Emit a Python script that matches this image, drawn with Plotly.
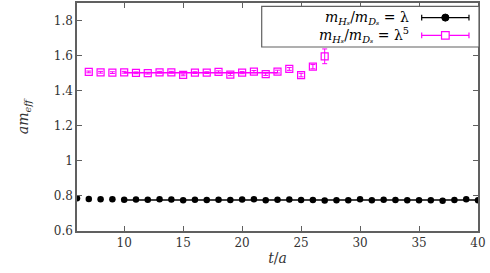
import plotly.graph_objects as go

# ---- data ----
t_black = list(range(6, 41))
y_black = [0.787, 0.783, 0.781, 0.781, 0.778, 0.779, 0.778, 0.781, 0.780, 0.776,
           0.778, 0.777, 0.778, 0.777, 0.779, 0.781, 0.775, 0.778, 0.779, 0.777,
           0.777, 0.774, 0.775, 0.776, 0.781, 0.776, 0.778, 0.777, 0.776, 0.776,
           0.776, 0.773, 0.777, 0.781, 0.776]
e_black = [0.002] * len(t_black)

t_mag = list(range(7, 28))
y_mag = [1.507, 1.505, 1.503, 1.505, 1.502, 1.500, 1.505, 1.505, 1.490, 1.503,
         1.503, 1.507, 1.492, 1.503, 1.509, 1.494, 1.509, 1.524, 1.489, 1.537,
         1.596]
e_mag = [0.005, 0.005, 0.005, 0.005, 0.005, 0.005, 0.005, 0.005, 0.005, 0.005,
         0.005, 0.006, 0.006, 0.006, 0.006, 0.007, 0.008, 0.008, 0.010, 0.012,
         0.042]

fit_black_t = [10, 40]
fit_black_y = [0.777, 0.777]
fit_mag_t = [10, 23]
fit_mag_y = [1.502, 1.502]

x_ticks = [10, 15, 20, 25, 30, 35, 40]
y_ticks = [0.6, 0.8, 1.0, 1.2, 1.4, 1.6, 1.8]
y_ticklabels = ["0.6", "0.8", "1", "1.2", "1.4", "1.6", "1.8"]

legend_labels = ["<i>m</i><sub><i>Hₛ</i></sub>/<i>m</i><sub><i>Dₛ</i></sub> = λ",
                 "<i>m</i><sub><i>Hₛ</i></sub>/<i>m</i><sub><i>Dₛ</i></sub> = λ<sup>5</sup>"]

BLACK = "#000000"
MAG = "#ff00ff"
AXC = "#606060"
TXT = "#333333"
FONT = "DejaVu Serif"

fig = go.Figure()

fig.add_trace(go.Scatter(x=fit_black_t, y=fit_black_y, mode="lines",
                         line=dict(color=BLACK, width=1.5), showlegend=False, hoverinfo="skip"))
fig.add_trace(go.Scatter(x=fit_mag_t, y=fit_mag_y, mode="lines",
                         line=dict(color=MAG, width=1.5), showlegend=False, hoverinfo="skip"))

fig.add_trace(go.Scatter(x=t_black, y=y_black, mode="markers",
                         marker=dict(symbol="circle", size=6.5, color=BLACK),
                         error_y=dict(type="data", array=e_black, color=BLACK, width=2, thickness=1),
                         showlegend=False))
fig.add_trace(go.Scatter(x=t_mag, y=y_mag, mode="markers",
                         marker=dict(symbol="square-open", size=7, color=MAG, line=dict(width=1.2)),
                         error_y=dict(type="data", array=e_mag, color=MAG, width=2.5, thickness=1),
                         showlegend=False))

# ---- custom legend (text left, sample right, boxed) ----
shapes = []
annotations = []
shapes.append(dict(type="rect", xref="paper", yref="paper", x0=0.4606, x1=1.0025,
                   y0=0.807, y1=0.985, line=dict(color=AXC, width=1.2), fillcolor="white"))
rows = [(0.936, BLACK, "circle"), (0.858, MAG, "square")]
for (yy, col, sym), lab in zip(rows, legend_labels):
    annotations.append(dict(xref="paper", yref="paper", x=0.834, y=yy, text=lab,
                            showarrow=False, xanchor="right", yanchor="middle",
                            font=dict(family=FONT, size=14, color="black")))
    x0, x1, xm = 0.8596, 0.9775, 0.9186
    shapes.append(dict(type="line", xref="paper", yref="paper", x0=x0, x1=x1, y0=yy, y1=yy,
                       line=dict(color=col, width=1.2)))
    for xc in (x0, x1):
        shapes.append(dict(type="line", xref="paper", yref="paper", x0=xc, x1=xc,
                           y0=yy - 0.013, y1=yy + 0.013, line=dict(color=col, width=1.2)))
    if sym == "circle":
        shapes.append(dict(type="circle", xref="paper", yref="paper",
                           x0=xm - 0.009, x1=xm + 0.009, y0=yy - 0.0155, y1=yy + 0.0155,
                           fillcolor=col, line=dict(color=col, width=1)))
    else:
        shapes.append(dict(type="rect", xref="paper", yref="paper",
                           x0=xm - 0.0095, x1=xm + 0.0095, y0=yy - 0.0165, y1=yy + 0.0165,
                           fillcolor="white", line=dict(color=col, width=1.2)))

fig.update_layout(
    width=490, height=273,
    margin=dict(l=77, r=12, t=1, b=42),
    plot_bgcolor="white", paper_bgcolor="white",
    font=dict(family=FONT, size=12, color=TXT),
    shapes=shapes, annotations=annotations,
    showlegend=False,
)
fig.update_xaxes(range=[6, 40], tickvals=x_ticks, ticks="inside", ticklen=5,
                 tickcolor=AXC, showline=True, linecolor=AXC, linewidth=1.5, mirror="ticks",
                 showgrid=False, zeroline=False,
                 tickfont=dict(family=FONT, size=12, color=TXT),
                 title=dict(text="<i>t</i>/<i>a</i>", font=dict(family=FONT, size=14, color=TXT),
                            standoff=4))
fig.update_yaxes(range=[0.6, 1.9], tickvals=y_ticks, ticktext=y_ticklabels, ticks="inside", ticklen=5,
                 tickcolor=AXC, showline=True, linecolor=AXC, linewidth=1.5, mirror="ticks",
                 showgrid=False, zeroline=False,
                 tickfont=dict(family=FONT, size=12, color=TXT),
                 title=dict(text="<i>am</i><sub><i>eff</i></sub>",
                            font=dict(family=FONT, size=14, color=TXT), standoff=22))

fig.write_html("out.html", config={"displayModeBar": False},
               post_script="document.body.style.margin='0';")
